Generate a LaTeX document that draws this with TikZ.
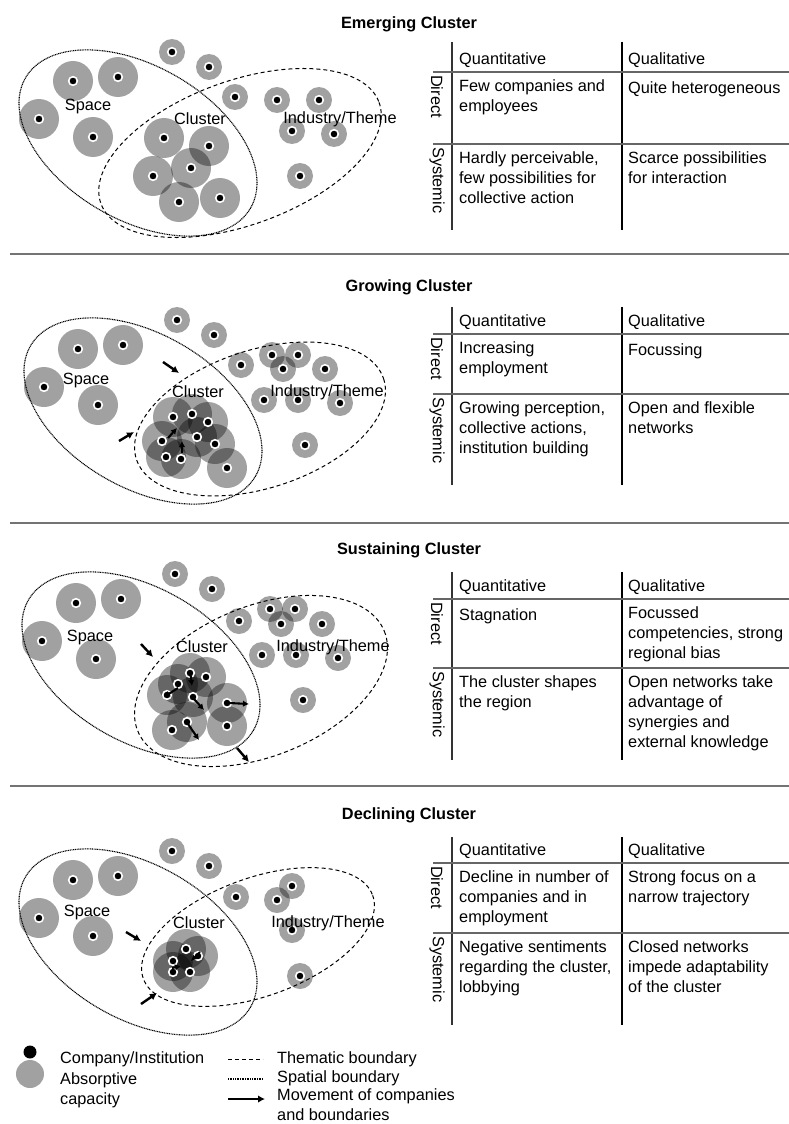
\documentclass[tikz,border=0pt]{standalone}
\usepackage{fontspec}
\setmainfont{Liberation Sans}
\usetikzlibrary{arrows.meta}
\newcommand{\cell}{\fontsize{16.3}{20}\selectfont}
% firms shared by every stage (panel 1 coordinates)
\def\spacefirms{73/81, 118/77, 39/119, 93/137}
\def\outerfirms{172/52, 209/67}
% firms of each stage
\def\clusterA{164/138, 209/146, 191/168, 153/176, 179/202, 220/198}
\def\industryA{235/97, 277/100, 319/100, 292/131, 334/134, 300/176}
\def\clusterB{173/417, 192/414, 208/422, 197/437, 162/441, 215/444, 166/457, 181/459, 227/468}
\def\industryB{241/365, 272/355, 298/355, 283/369, 325/369, 264/400, 298/400, 340/403, 305/445}
\def\clusterC{190/673, 206/677, 178/684, 167/695, 193/697, 227/703, 227/726, 172/730, 187/722}
\def\industryC{239/621, 270/609, 295/609, 281/624, 322/624, 262/655, 296/655, 338/658, 303/700}
\def\clusterD{186/949, 198/956, 173/961, 173/972, 190/972}
\def\industryD{236/897, 292/886, 277/900, 292/930, 300/976}
\def\offsets{0/0, 5/268, 3/522, 0/799}

\begin{document}
\begin{tikzpicture}[
  x=1pt, y=-1pt,
  capacity/.style={fill=black, fill opacity=0.37},
  company/.style={fill=black, draw=white, line width=1.6pt},
  spatial/.style={line width=1.1pt, dash pattern=on 1pt off 0.7pt},
  thematic/.style={line width=1pt, dash pattern=on 4pt off 3pt},
  movearrow/.style={-{Latex[length=7pt,width=7.5pt]}, line width=2.4pt},
  shortmove/.style={-{Latex[length=6pt,width=6.5pt]}, line width=2.1pt},
  stagetitle/.style={font=\cell\bfseries, anchor=base, inner sep=0},
  celltext/.style={font=\cell, anchor=north west, inner sep=0, align=left, execute at begin node=\strut},
  rowlabel/.style={font=\cell, rotate=-90, anchor=west, inner sep=0},
  areatext/.style={font=\cell, inner sep=0},
  thinrule/.style={line width=1.4pt, black!80},
  thickrule/.style={line width=2.8pt, black},
  rowrule/.style={line width=2pt, black!60},
  divider/.style={line width=1.6pt, black!55}
]
\useasboundingbox (0,0) rectangle (789,1124);

% absorptive capacity
\foreach \dx/\dy in \offsets {
  \begin{scope}[shift={(\dx,\dy)}]
    \foreach \x/\y in \spacefirms \fill[capacity] (\x,\y) circle (20);
    \foreach \x/\y in \outerfirms \fill[capacity] (\x,\y) circle (13);
  \end{scope}
}
\foreach \x/\y in \clusterA \fill[capacity] (\x,\y) circle (20);
\foreach \x/\y in \clusterB \fill[capacity] (\x,\y) circle (20);
\foreach \x/\y in \clusterC \fill[capacity] (\x,\y) circle (20);
\foreach \x/\y in \clusterD \fill[capacity] (\x,\y) circle (20);
\foreach \x/\y in \industryA \fill[capacity] (\x,\y) circle (13);
\foreach \x/\y in \industryB \fill[capacity] (\x,\y) circle (13);
\foreach \x/\y in \industryC \fill[capacity] (\x,\y) circle (13);
\foreach \x/\y in \industryD \fill[capacity] (\x,\y) circle (13);

% boundaries
\foreach \dx/\dy in \offsets
  \draw[spatial, shift={(\dx,\dy)}, rotate around={-30:(138,143)}] (138,143) ellipse [x radius=130, y radius=77];
\draw[thematic, rotate around={20:(240,153)}] (240,153) ellipse [x radius=148, y radius=72];
\draw[thematic, rotate around={18:(260,419)}] (260,419) ellipse [x radius=130, y radius=69];
\draw[thematic, rotate around={22:(261,681)}] (261,681) ellipse [x radius=133, y radius=75];
\draw[thematic, rotate around={20:(258,937)}] (258,937) ellipse [x radius=122, y radius=59];

% companies
\foreach \dx/\dy in \offsets {
  \begin{scope}[shift={(\dx,\dy)}]
    \foreach \x/\y in \spacefirms \filldraw[company] (\x,\y) circle (4.3);
    \foreach \x/\y in \outerfirms \filldraw[company] (\x,\y) circle (4.3);
  \end{scope}
}
\foreach \x/\y in \clusterA \filldraw[company] (\x,\y) circle (4.3);
\foreach \x/\y in \clusterB \filldraw[company] (\x,\y) circle (4.3);
\foreach \x/\y in \clusterC \filldraw[company] (\x,\y) circle (4.3);
\foreach \x/\y in \clusterD \filldraw[company] (\x,\y) circle (4.3);
\foreach \x/\y in \industryA \filldraw[company] (\x,\y) circle (4.3);
\foreach \x/\y in \industryB \filldraw[company] (\x,\y) circle (4.3);
\foreach \x/\y in \industryC \filldraw[company] (\x,\y) circle (4.3);
\foreach \x/\y in \industryD \filldraw[company] (\x,\y) circle (4.3);

% movements
\draw[movearrow] (163,362) -- (179,373);
\draw[movearrow] (119,441) -- (134,432);
\draw[shortmove] (168,438) -- (177,428);
\draw[shortmove] (182,453) -- (182,441);
\draw[movearrow] (141,644) -- (153,657);
\draw[shortmove] (190,671) -- (192,686);
\draw[shortmove] (178,688) -- (164,697);
\draw[shortmove] (194,699) -- (204,710);
\draw[shortmove] (229,703) -- (249,704);
\draw[shortmove] (188,724) -- (199,740);
\draw[movearrow] (237,748) -- (249,762);
\draw[movearrow] (126,932) -- (141,941);
\draw[movearrow] (141,1004) -- (157,993);
\draw[shortmove] (200,952) -- (191,961);
\draw[shortmove] (172,968) -- (181,966);

% area labels
\node[areatext] (spaceA) at (88,107) {Space};
\node[areatext] (clusA) at (200,119) {Cluster};
\node[areatext] (themeA) at (340,119) {Industry/Theme};
\node[areatext] (spaceB) at (86,380) {Space};
\node[areatext] (clusB) at (198,392) {Cluster};
\node[areatext] (themeB) at (327,392) {Industry/Theme};
\node[areatext] (spaceC) at (90,637) {Space};
\node[areatext] (clusC) at (202,647) {Cluster};
\node[areatext] (themeC) at (333,647) {Industry/Theme};
\node[areatext] (spaceD) at (87,912) {Space};
\node[areatext] (clusD) at (199,923) {Cluster};
\node[areatext] (themeD) at (328,923) {Industry/Theme};

% stage titles and dividers
\node[stagetitle] (titleA) at (409,29) {Emerging Cluster};
\node[stagetitle] (titleB) at (409,291) {Growing Cluster};
\node[stagetitle] (titleC) at (409,554) {Sustaining Cluster};
\node[stagetitle] (titleD) at (409,819) {Declining Cluster};
\draw[divider] (10,254) -- (789,254);
\draw[divider] (10,523) -- (789,523);
\draw[divider] (10,786) -- (789,786);

% tables
\foreach \T/\ha/\hb/\B [count=\i] in {42/72/144/230, 307/334/394/485, 572/599/668/760, 837/863/933/1025} {
  \draw[thinrule] (452,\T) -- (452,\B);
  \draw[thickrule] (622,\T) -- (622,\B);
  \draw[rowrule] (433,\ha) -- (789,\ha);
  \draw[rowrule] (433,\hb) -- (789,\hb);
  \node[celltext] (quant\i) at (459,\ha-22) {Quantitative};
  \node[celltext] (qual\i) at (628,\ha-22) {Qualitative};
  \node[rowlabel] (direct\i) at (437,\ha+3) {Direct};
  \node[rowlabel] (syst\i) at (437,\hb+3) {Systemic};
}
\node[celltext] (dqnA) at (459,79) {Few companies and\\employees};
\node[celltext] (dqlA) at (628,79) {Quite heterogeneous};
\node[celltext] (sqnA) at (459,151) {Hardly perceivable,\\few possibilities for\\collective action};
\node[celltext] (sqlA) at (628,151) {Scarce possibilities\\for interaction};
\node[celltext] (dqnB) at (459,341) {Increasing\\employment};
\node[celltext] (dqlB) at (628,341) {Focussing};
\node[celltext] (sqnB) at (459,401) {Growing perception,\\collective actions,\\institution building};
\node[celltext] (sqlB) at (628,401) {Open and flexible\\networks};
\node[celltext] (dqnC) at (459,606) {Stagnation};
\node[celltext] (dqlC) at (628,606) {Focussed\\competencies, strong\\regional bias};
\node[celltext] (sqnC) at (459,675) {The cluster shapes\\the region};
\node[celltext] (sqlC) at (628,675) {Open networks take\\advantage of\\synergies and\\external knowledge};
\node[celltext] (dqnD) at (459,870) {Decline in number of\\companies and in\\employment};
\node[celltext] (dqlD) at (628,870) {Strong focus on a\\narrow trajectory};
\node[celltext] (sqnD) at (459,940) {Negative sentiments\\regarding the cluster,\\lobbying};
\node[celltext] (sqlD) at (628,940) {Closed networks\\impede adaptability\\of the cluster};

% legend
\fill (30,1052) circle (6.5);
\fill[capacity] (30,1074) circle (14);
\node[celltext] (legfirm) at (60,1049) {Company/Institution};
\node[celltext] (legcap) at (60,1072) {Absorptive\\capacity};
\draw[thematic] (228,1059) -- (263,1059);
\draw[spatial] (228,1079) -- (263,1079);
\draw[movearrow] (228,1099) -- (265,1099);
\node[celltext] (legtheme) at (277,1049) {Thematic boundary};
\node[celltext] (legspace) at (277,1068) {Spatial boundary};
\node[celltext] (legmove) at (277,1088) {Movement of companies\\and boundaries};
\end{tikzpicture}
\end{document}
